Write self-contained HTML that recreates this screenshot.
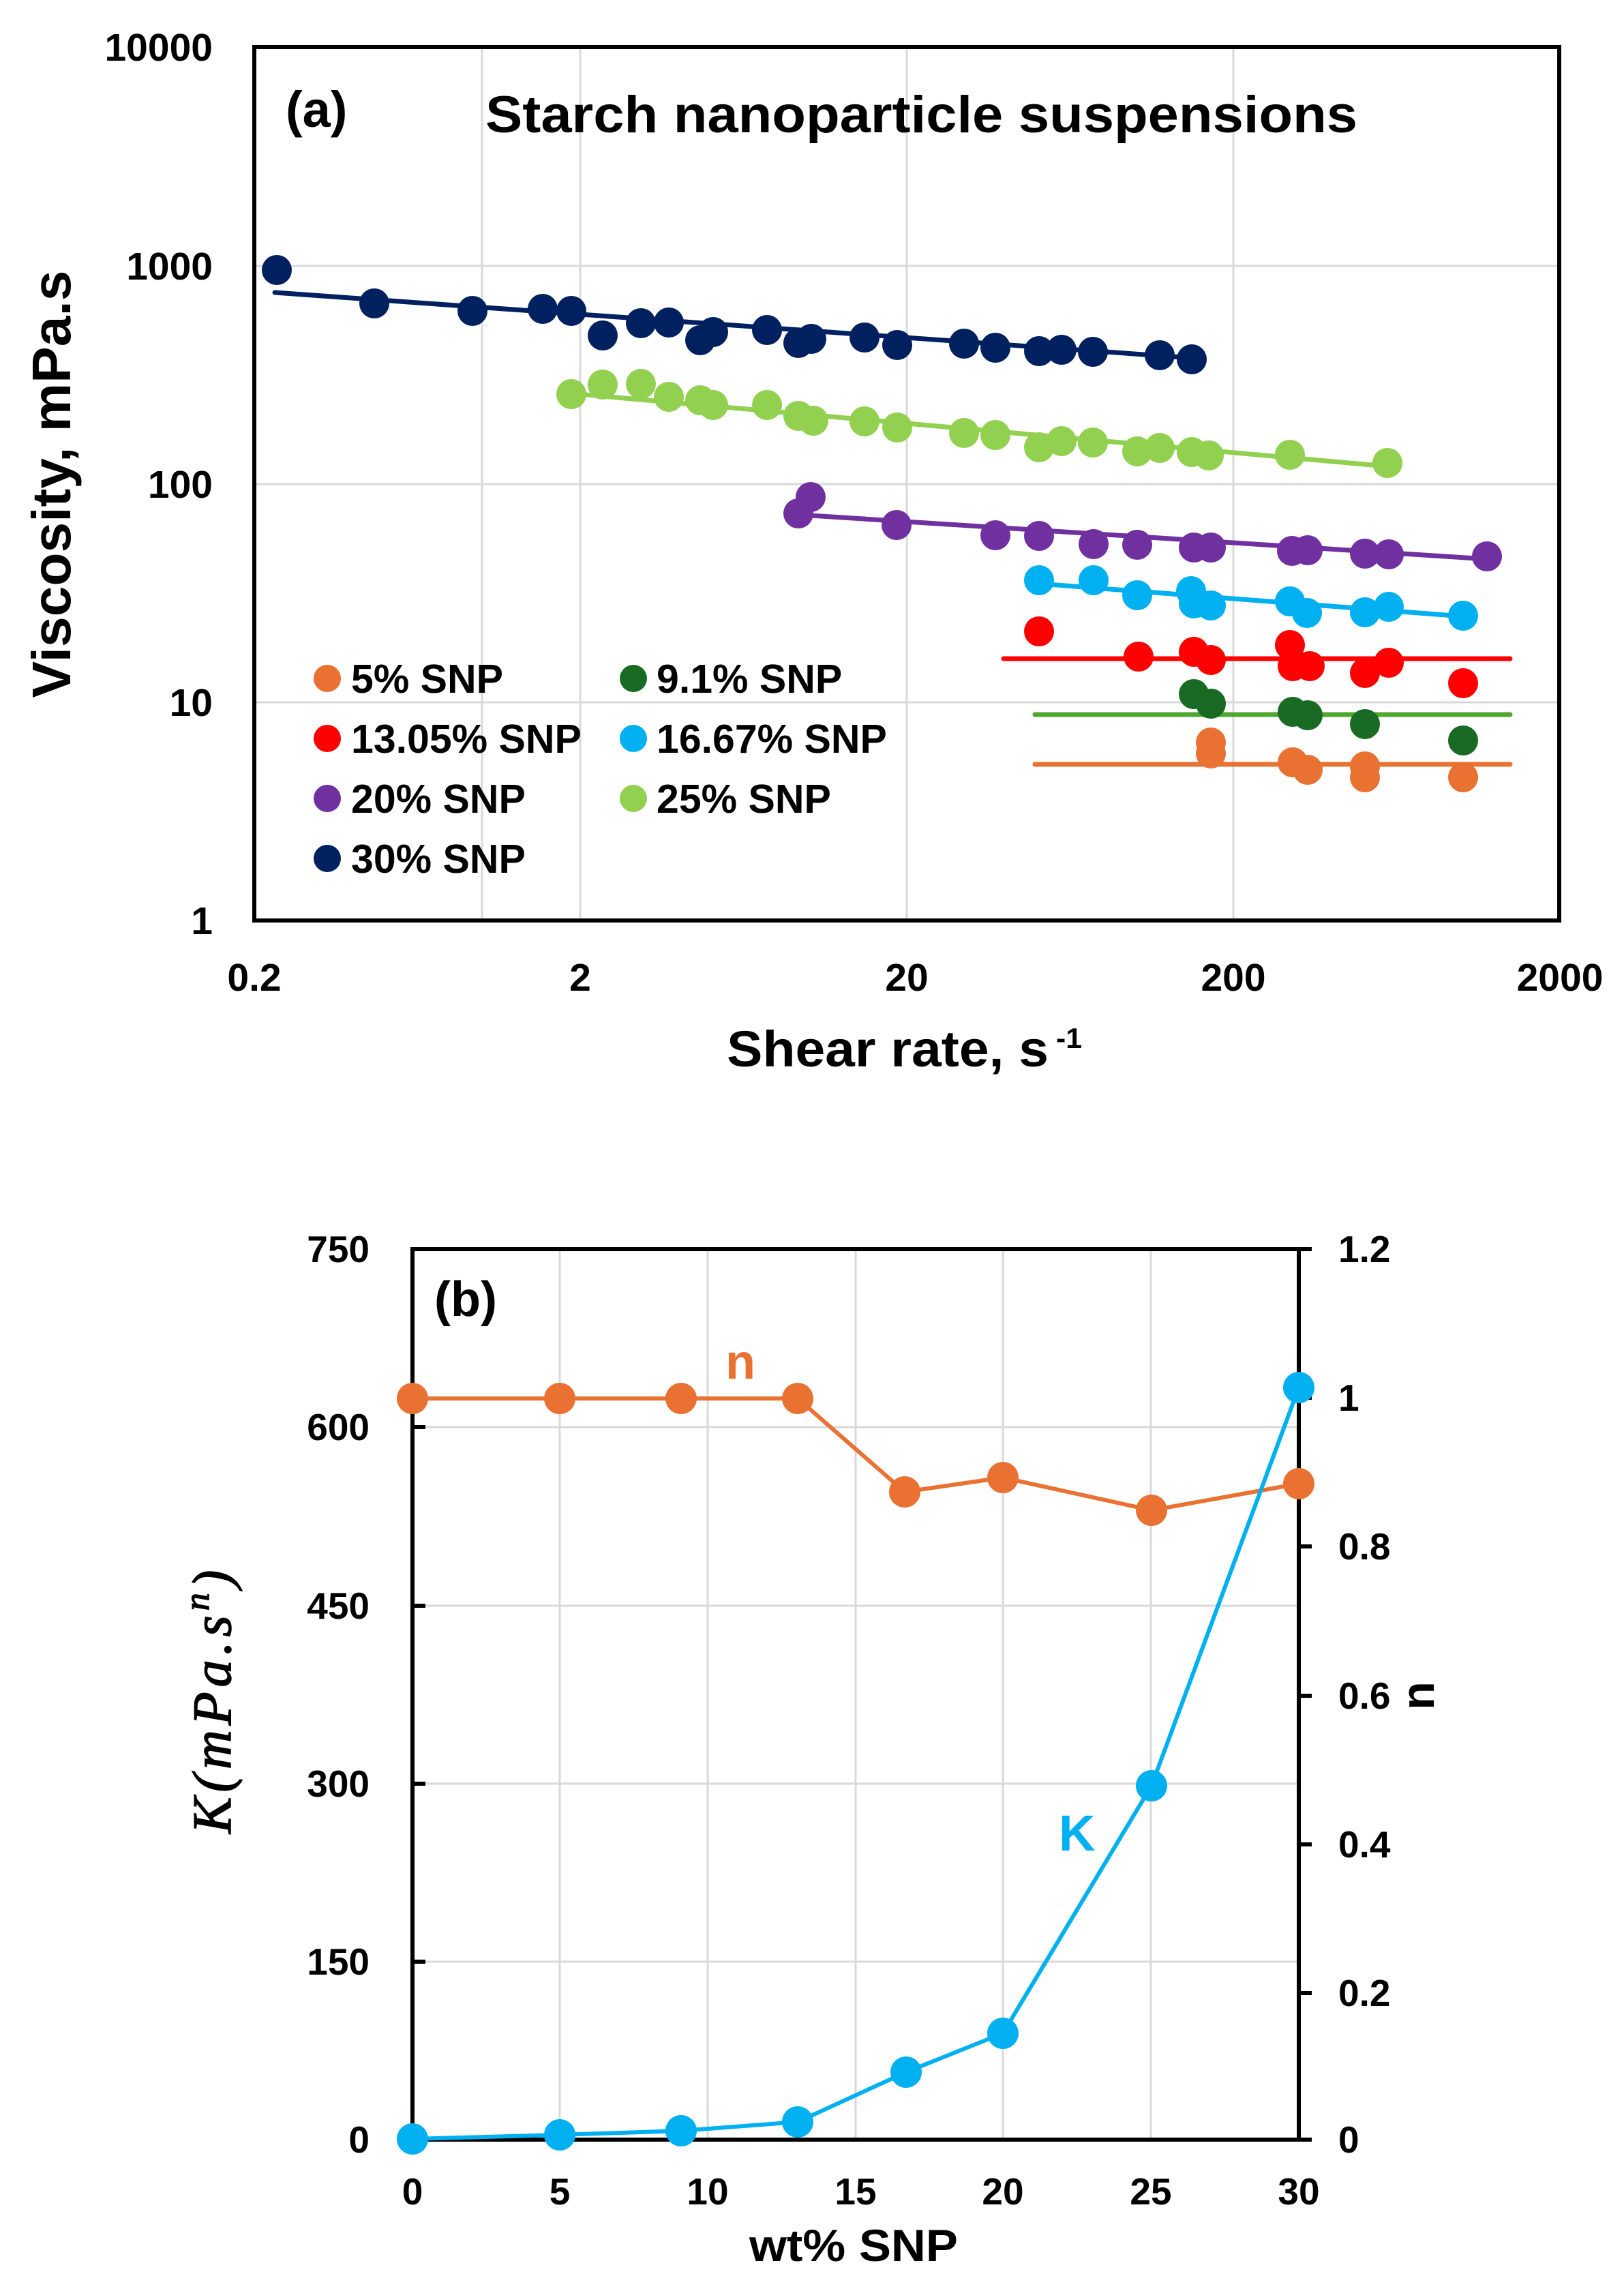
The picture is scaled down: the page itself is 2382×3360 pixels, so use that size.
<!DOCTYPE html>
<html>
<head>
<meta charset="utf-8">
<style>
html,body{margin:0;padding:0;background:#fff}
svg{display:block}
</style>
</head>
<body>
<svg xmlns="http://www.w3.org/2000/svg" width="2382" height="3360" viewBox="0 0 2382 3360" font-family="'Liberation Sans', Arial, sans-serif" font-weight="bold">
<rect x="0" y="0" width="2382" height="3360" fill="#fff"/>

<!-- ================= PANEL (a) ================= -->
<g stroke="#d9d9d9" stroke-width="3">
  <line x1="373" y1="390" x2="2287" y2="390"/>
  <line x1="373" y1="710" x2="2287" y2="710"/>
  <line x1="373" y1="1030" x2="2287" y2="1030"/>
  <line x1="707" y1="69" x2="707" y2="1350"/>
  <line x1="851" y1="69" x2="851" y2="1350"/>
  <line x1="1330" y1="69" x2="1330" y2="1350"/>
  <line x1="1809" y1="69" x2="1809" y2="1350"/>
</g>
<rect x="373" y="69" width="1914" height="1281" fill="none" stroke="#000" stroke-width="6"/>

<!-- trend lines -->
<g stroke-width="7" stroke-linecap="round" fill="none">
  <line x1="403" y1="429" x2="1748" y2="525" stroke="#002060"/>
  <line x1="838" y1="577" x2="2035" y2="684" stroke="#92D050"/>
  <line x1="1189" y1="756" x2="2181" y2="820" stroke="#7030A0"/>
  <line x1="1524" y1="856" x2="2146" y2="904" stroke="#00B0F0"/>
  <line x1="1472" y1="966" x2="2215" y2="966" stroke="#FF0000"/>
  <line x1="1518" y1="1048" x2="2215" y2="1048" stroke="#4EA72E"/>
  <line x1="1518" y1="1121" x2="2215" y2="1121" stroke="#E97132"/>
</g>

<!-- 30% navy -->
<g fill="#002060">
  <circle cx="406" cy="396" r="22"/><circle cx="549" cy="445" r="22"/><circle cx="693" cy="456" r="22"/>
  <circle cx="796" cy="453" r="22"/><circle cx="838" cy="456" r="22"/><circle cx="884" cy="492" r="22"/>
  <circle cx="940" cy="474" r="22"/><circle cx="981" cy="473" r="22"/><circle cx="1027" cy="499" r="22"/>
  <circle cx="1046" cy="487" r="22"/><circle cx="1125" cy="484" r="22"/><circle cx="1171" cy="503" r="22"/>
  <circle cx="1190" cy="497" r="22"/><circle cx="1268" cy="495" r="22"/><circle cx="1316" cy="506" r="22"/>
  <circle cx="1414" cy="504" r="22"/><circle cx="1460" cy="510" r="22"/><circle cx="1524" cy="515" r="22"/>
  <circle cx="1557" cy="513" r="22"/><circle cx="1603" cy="516" r="22"/><circle cx="1701" cy="521" r="22"/>
  <circle cx="1748" cy="527" r="22"/>
</g>
<!-- 25% light green -->
<g fill="#92D050">
  <circle cx="838" cy="578" r="22"/><circle cx="884" cy="564" r="22"/><circle cx="940" cy="563" r="22"/>
  <circle cx="981" cy="582" r="22"/><circle cx="1027" cy="587" r="22"/><circle cx="1046" cy="594" r="22"/>
  <circle cx="1125" cy="594" r="22"/><circle cx="1171" cy="610" r="22"/><circle cx="1193" cy="617" r="22"/>
  <circle cx="1268" cy="618" r="22"/><circle cx="1316" cy="627" r="22"/><circle cx="1414" cy="635" r="22"/>
  <circle cx="1460" cy="638" r="22"/><circle cx="1524" cy="656" r="22"/><circle cx="1557" cy="647" r="22"/>
  <circle cx="1603" cy="649" r="22"/><circle cx="1668" cy="662" r="22"/><circle cx="1701" cy="657" r="22"/>
  <circle cx="1748" cy="663" r="22"/><circle cx="1773" cy="668" r="22"/><circle cx="1892" cy="667" r="22"/>
  <circle cx="2035" cy="679" r="22"/>
</g>
<!-- 20% purple -->
<g fill="#7030A0">
  <circle cx="1171" cy="753" r="22"/><circle cx="1189" cy="729" r="22"/><circle cx="1315" cy="770" r="22"/>
  <circle cx="1460" cy="785" r="22"/><circle cx="1524" cy="786" r="22"/><circle cx="1604" cy="798" r="22"/>
  <circle cx="1668" cy="799" r="22"/><circle cx="1751" cy="803" r="22"/><circle cx="1776" cy="803" r="22"/>
  <circle cx="1895" cy="808" r="22"/><circle cx="1918" cy="807" r="22"/><circle cx="2002" cy="812" r="22"/>
  <circle cx="2037" cy="813" r="22"/><circle cx="2181" cy="816" r="22"/>
</g>
<!-- 16.67% cyan -->
<g fill="#00B0F0">
  <circle cx="1524" cy="851" r="22"/><circle cx="1604" cy="851" r="22"/><circle cx="1668" cy="873" r="22"/>
  <circle cx="1747" cy="867" r="22"/><circle cx="1751" cy="885" r="22"/><circle cx="1776" cy="888" r="22"/>
  <circle cx="1892" cy="882" r="22"/><circle cx="1917" cy="899" r="22"/><circle cx="2002" cy="898" r="22"/>
  <circle cx="2037" cy="890" r="22"/><circle cx="2146" cy="903" r="22"/>
</g>
<!-- 13.05% red -->
<g fill="#FF0000">
  <circle cx="1524" cy="926" r="22"/><circle cx="1670" cy="963" r="22"/><circle cx="1751" cy="956" r="22"/>
  <circle cx="1776" cy="968" r="22"/><circle cx="1892" cy="946" r="22"/><circle cx="1896" cy="977" r="22"/>
  <circle cx="1921" cy="977" r="22"/><circle cx="2002" cy="987" r="22"/><circle cx="2037" cy="972" r="22"/>
  <circle cx="2146" cy="1002" r="22"/>
</g>
<!-- 9.1% dark green -->
<g fill="#196B24">
  <circle cx="1751" cy="1018" r="22"/><circle cx="1776" cy="1032" r="22"/><circle cx="1896" cy="1044" r="22"/>
  <circle cx="1918" cy="1049" r="22"/><circle cx="2002" cy="1062" r="22"/><circle cx="2146" cy="1086" r="22"/>
</g>
<!-- 5% orange -->
<g fill="#E97132">
  <circle cx="1776" cy="1089" r="22"/><circle cx="1776" cy="1105" r="22"/><circle cx="1896" cy="1118" r="22"/>
  <circle cx="1918" cy="1129" r="22"/><circle cx="2002" cy="1124" r="22"/><circle cx="2002" cy="1140" r="22"/>
  <circle cx="2146" cy="1140" r="22"/>
</g>

<!-- legend -->
<g>
  <circle cx="480" cy="995" r="20" fill="#E97132"/>
  <circle cx="480" cy="1083" r="20" fill="#FF0000"/>
  <circle cx="480" cy="1171" r="20" fill="#7030A0"/>
  <circle cx="480" cy="1259" r="20" fill="#002060"/>
  <circle cx="929" cy="995" r="20" fill="#196B24"/>
  <circle cx="929" cy="1083" r="20" fill="#00B0F0"/>
  <circle cx="929" cy="1171" r="20" fill="#92D050"/>
</g>
<g font-size="59" fill="#000">
  <text x="515" y="1016">5% SNP</text>
  <text x="515" y="1104">13.05% SNP</text>
  <text x="515" y="1192">20% SNP</text>
  <text x="515" y="1280">30% SNP</text>
  <text x="963" y="1016">9.1% SNP</text>
  <text x="963" y="1104">16.67% SNP</text>
  <text x="963" y="1192">25% SNP</text>
</g>

<!-- titles -->
<text x="419" y="186" font-size="74" fill="#000">(a)</text>
<text x="712" y="194" font-size="76" fill="#000" textLength="1279" lengthAdjust="spacingAndGlyphs">Starch nanoparticle suspensions</text>

<!-- y ticks a -->
<g font-size="57" fill="#000" text-anchor="end">
  <text x="312" y="89">10000</text>
  <text x="312" y="410">1000</text>
  <text x="312" y="730">100</text>
  <text x="312" y="1050">10</text>
  <text x="312" y="1370">1</text>
</g>
<!-- x ticks a -->
<g font-size="57" fill="#000" text-anchor="middle">
  <text x="373" y="1453">0.2</text>
  <text x="851" y="1453">2</text>
  <text x="1330" y="1453">20</text>
  <text x="1809" y="1453">200</text>
  <text x="2288" y="1453">2000</text>
</g>
<text transform="translate(103,710) rotate(-90)" text-anchor="middle" font-size="80" fill="#000" textLength="627" lengthAdjust="spacingAndGlyphs">Viscosity, mPa.s</text>
<text x="1066" y="1564" font-size="74" fill="#000" textLength="472" lengthAdjust="spacingAndGlyphs">Shear rate, s</text>
<text x="1549" y="1537" font-size="42" fill="#000" textLength="38" lengthAdjust="spacingAndGlyphs">-1</text>

<!-- ================= PANEL (b) ================= -->
<g stroke="#d9d9d9" stroke-width="3">
  <line x1="605" y1="2093" x2="1905" y2="2093"/>
  <line x1="605" y1="2355" x2="1905" y2="2355"/>
  <line x1="605" y1="2616" x2="1905" y2="2616"/>
  <line x1="605" y1="2877" x2="1905" y2="2877"/>
  <line x1="821" y1="1832" x2="821" y2="3138"/>
  <line x1="1038" y1="1832" x2="1038" y2="3138"/>
  <line x1="1255" y1="1832" x2="1255" y2="3138"/>
  <line x1="1471" y1="1832" x2="1471" y2="3138"/>
  <line x1="1688" y1="1832" x2="1688" y2="3138"/>
</g>
<g stroke="#000" stroke-width="6" fill="none">
  <line x1="605" y1="1829" x2="605" y2="3141"/>
  <line x1="602" y1="1832" x2="1924" y2="1832"/>
  <line x1="1905" y1="1829" x2="1905" y2="3141"/>
  <line x1="602" y1="3138" x2="1924" y2="3138"/>
  <line x1="605" y1="2093" x2="624" y2="2093"/>
  <line x1="605" y1="2355" x2="624" y2="2355"/>
  <line x1="605" y1="2616" x2="624" y2="2616"/>
  <line x1="605" y1="2877" x2="624" y2="2877"/>
  <line x1="1905" y1="2050" x2="1924" y2="2050"/>
  <line x1="1905" y1="2268" x2="1924" y2="2268"/>
  <line x1="1905" y1="2487" x2="1924" y2="2487"/>
  <line x1="1905" y1="2705" x2="1924" y2="2705"/>
  <line x1="1905" y1="2923" x2="1924" y2="2923"/>
</g>

<!-- n series -->
<polyline points="605,2051 821,2051 999,2051 1170,2051 1327,2188 1471,2167 1689,2215 1905,2176" fill="none" stroke="#E97132" stroke-width="6" stroke-linejoin="round"/>
<g fill="#E97132">
  <circle cx="605" cy="2051" r="23"/><circle cx="821" cy="2051" r="23"/><circle cx="999" cy="2051" r="23"/>
  <circle cx="1170" cy="2051" r="23"/><circle cx="1327" cy="2188" r="23"/><circle cx="1471" cy="2167" r="23"/>
  <circle cx="1689" cy="2215" r="23"/><circle cx="1905" cy="2176" r="23"/>
</g>
<!-- K series -->
<polyline points="605,3137 821,3131 999,3125 1170,3112 1329,3039 1471,2982 1689,2619 1905,2035" fill="none" stroke="#00B0F0" stroke-width="6" stroke-linejoin="round"/>
<g fill="#00B0F0">
  <circle cx="605" cy="3137" r="23"/><circle cx="821" cy="3131" r="23"/><circle cx="999" cy="3125" r="23"/>
  <circle cx="1170" cy="3112" r="23"/><circle cx="1329" cy="3039" r="23"/><circle cx="1471" cy="2982" r="23"/>
  <circle cx="1689" cy="2619" r="23"/><circle cx="1905" cy="2035" r="23"/>
</g>

<!-- labels b -->
<text x="637" y="1930" font-size="72" fill="#000">(b)</text>
<text x="1064" y="2022" font-size="72" fill="#E97132">n</text>
<text x="1553" y="2714" font-size="74" fill="#00B0F0">K</text>

<g font-size="55" fill="#000" text-anchor="end">
  <text x="542" y="1851">750</text>
  <text x="542" y="2112">600</text>
  <text x="542" y="2374">450</text>
  <text x="542" y="2635">300</text>
  <text x="542" y="2896">150</text>
  <text x="542" y="3157">0</text>
</g>
<g font-size="55" fill="#000">
  <text x="1963" y="1851">1.2</text>
  <text x="1963" y="2069">1</text>
  <text x="1963" y="2287">0.8</text>
  <text x="1963" y="2506">0.6</text>
  <text x="1963" y="2724">0.4</text>
  <text x="1963" y="2942">0.2</text>
  <text x="1963" y="3157">0</text>
</g>
<g font-size="55" fill="#000" text-anchor="middle">
  <text x="605" y="3233">0</text>
  <text x="821" y="3233">5</text>
  <text x="1038" y="3233">10</text>
  <text x="1255" y="3233">15</text>
  <text x="1471" y="3233">20</text>
  <text x="1688" y="3233">25</text>
  <text x="1905" y="3233">30</text>
</g>
<text x="1252" y="3316" font-size="66" fill="#000" text-anchor="middle" textLength="306" lengthAdjust="spacingAndGlyphs">wt% SNP</text>
<text transform="translate(2103,2487) rotate(-90)" text-anchor="middle" font-size="68" fill="#000">n</text>
<text transform="translate(338,2689) rotate(-90)" font-family="'Liberation Serif', 'Times New Roman', serif" font-style="italic" font-weight="normal" font-size="80" fill="#000" stroke="#000" stroke-width="1.5" letter-spacing="7">K(mPa.s<tspan font-size="52" dy="-32">n</tspan><tspan dy="32" font-size="80">)</tspan></text>
</svg>
</body>
</html>
